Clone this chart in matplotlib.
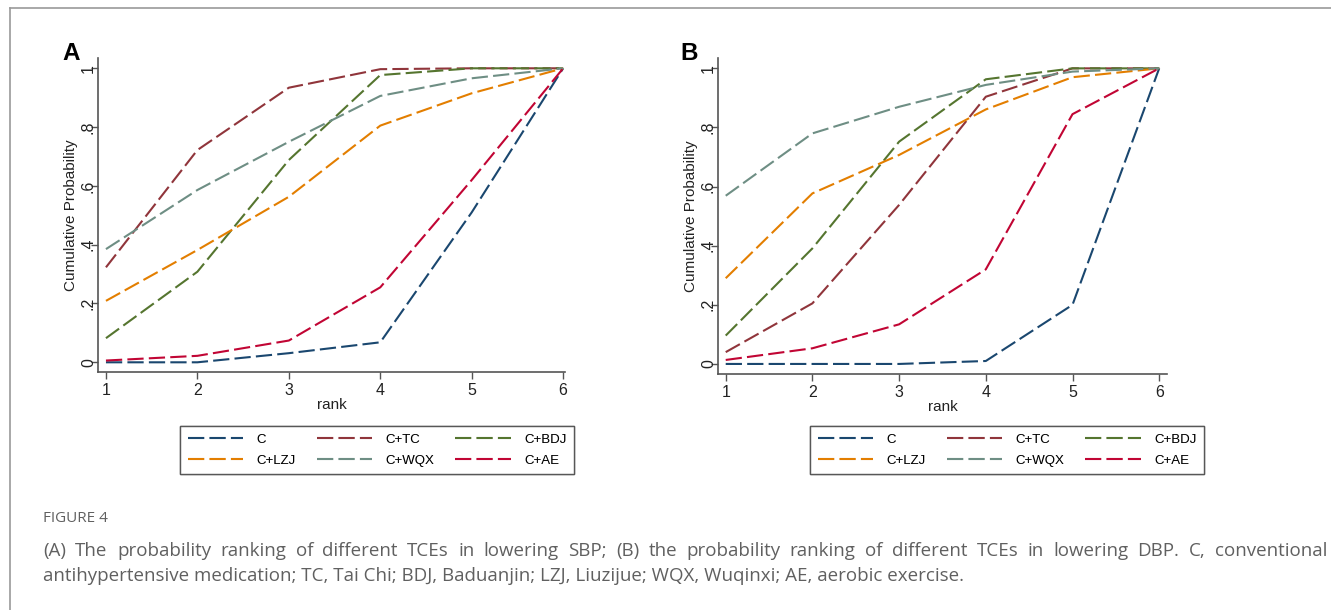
import matplotlib as mpl
import matplotlib.pyplot as plt
from matplotlib.lines import Line2D

mpl.rcParams.update({
    "font.family": ["Liberation Sans", "DejaVu Sans"],
    "font.size": 10,
})

W, H = 1331, 610

ranks = [1, 2, 3, 4, 5, 6]
series_names = ["C", "C+TC", "C+BDJ", "C+LZJ", "C+WQX", "C+AE"]
series_colors = ["#1a476f", "#90353b", "#55752f", "#e37e00", "#6e8e84", "#c10534"]

# panel A: SBP
sbp_c = [0.0, 0.0, 0.031, 0.068, 0.51, 1.0]
sbp_tc = [0.323, 0.722, 0.934, 0.997, 1.0, 1.0]
sbp_bdj = [0.082, 0.308, 0.688, 0.977, 1.0, 1.0]
sbp_lzj = [0.209, 0.382, 0.563, 0.805, 0.915, 1.0]
sbp_wqx = [0.385, 0.586, 0.75, 0.906, 0.966, 1.0]
sbp_ae = [0.006, 0.022, 0.074, 0.255, 0.62, 1.0]

# panel B: DBP
dbp_c = [0.0, 0.0, 0.0, 0.01, 0.2, 1.0]
dbp_tc = [0.04, 0.205, 0.538, 0.904, 1.0, 1.0]
dbp_bdj = [0.096, 0.391, 0.752, 0.963, 1.0, 1.0]
dbp_lzj = [0.29, 0.577, 0.707, 0.861, 0.97, 1.0]
dbp_wqx = [0.569, 0.78, 0.87, 0.944, 0.989, 1.0]
dbp_ae = [0.0135, 0.053, 0.134, 0.32, 0.845, 1.0]

y_ticks = [0, 0.2, 0.4, 0.6, 0.8, 1.0]
y_ticklabels = ["0", ".2", ".4", ".6", ".8", "1"]

caption_head = "FIGURE 4"
caption_line1 = ("(A) The probability ranking of different TCEs in lowering SBP; (B) the "
                 "probability ranking of different TCEs in lowering DBP. C, conventional")
caption_line2 = ("antihypertensive medication; TC, Tai Chi; BDJ, Baduanjin; LZJ, Liuzijue; "
                 "WQX, Wuqinxi; AE, aerobic exercise.")

AXIS_COL = "#555555"
DASHES = (7.8, 2.5)


def px_rect(left, top, right, bottom):
    return [left / W, 1 - bottom / H, (right - left) / W, (bottom - top) / H]


def draw_panel(ax, data, xlim, ylim):
    for vals, name, col in zip(data, series_names, series_colors):
        ax.plot(ranks, vals, color=col, lw=1.5, dashes=DASHES, label=name)
    ax.set_xlim(*xlim)
    ax.set_ylim(*ylim)
    ax.set_xticks(ranks)
    ax.set_yticks(y_ticks)
    ax.set_yticklabels(y_ticklabels, rotation=90, va="center")
    for s in ["top", "right"]:
        ax.spines[s].set_visible(False)
    for s in ["left", "bottom"]:
        ax.spines[s].set_color(AXIS_COL)
        ax.spines[s].set_linewidth(1.2)
    ax.tick_params(length=5, width=1.0, color=AXIS_COL, labelsize=11.5,
                   labelcolor="#222222")
    ax.tick_params(axis="x", pad=3)
    ax.tick_params(axis="y", pad=-3.5)
    ax.set_xlabel("rank", fontsize=11, color="#222222", labelpad=0)
    ax.set_ylabel("Cumulative Probability", fontsize=11, color="#222222",
                  labelpad=2)


fig = plt.figure(figsize=(W / 100, H / 100), dpi=100)

ax_a = fig.add_axes(px_rect(98, 58, 565, 372))
draw_panel(ax_a, [sbp_c, sbp_tc, sbp_bdj, sbp_lzj, sbp_wqx, sbp_ae],
           (0.913, 6.02), (-0.033, 1.035))
ax_b = fig.add_axes(px_rect(718, 58, 1167, 374))
draw_panel(ax_b, [dbp_c, dbp_tc, dbp_bdj, dbp_lzj, dbp_wqx, dbp_ae],
           (0.911, 6.09), (-0.034, 1.035))

fig.text(62 / W, 1 - 60 / H, "A", fontsize=17.5, fontweight="bold", va="baseline")
fig.text(680 / W, 1 - 60 / H, "B", fontsize=17.5, fontweight="bold", va="baseline")

handles = [Line2D([], [], color=c, lw=1.5, dashes=DASHES) for c in series_colors]
for (l, t, r, b) in [(181, 425, 573, 475), (805, 425, 1209, 475)]:
    # legend order follows the chart: C, C+TC, C+BDJ / C+LZJ, C+WQX, C+AE
    order = [0, 3, 1, 4, 2, 5]
    leg = fig.legend([handles[i] for i in order], [series_names[i] for i in order],
                     ncol=3, loc="center",
                     bbox_to_anchor=((l + r) / 2 / W, 1 - (t + b) / 2 / H),
                     fontsize=9.5, handlelength=4.2, columnspacing=1.6,
                     handletextpad=1.0, labelspacing=0.65, borderpad=0.55,
                     frameon=True, fancybox=False, edgecolor="#444444")
    leg.get_frame().set_linewidth(1.0)
    fig.add_artist(leg)

# figure border (top and left only)
fig.add_artist(Line2D([9.5 / W, 9.5 / W], [0, 1 - 7.5 / H], transform=fig.transFigure,
                      color="#9a9a9a", lw=1.2))
fig.add_artist(Line2D([9.5 / W, 1], [1 - 7.5 / H, 1 - 7.5 / H], transform=fig.transFigure,
                      color="#9a9a9a", lw=1.2))

CAP_FONT = ["Open Sans", "DejaVu Sans"]
CAP_COL = "#606060"
fig.text(43 / W, 1 - 522 / H, caption_head, fontsize=11, color=CAP_COL,
         family=CAP_FONT, va="baseline")

# justified first caption line
fig.canvas.draw()
renderer = fig.canvas.get_renderer()
words = caption_line1.split(" ")
texts = [fig.text(0, 1 - 556 / H, w, fontsize=13.5, color=CAP_COL, family=CAP_FONT,
                  va="baseline") for w in words]
widths = [t.get_window_extent(renderer).width for t in texts]
x0, x1 = 43, 1327
gap = (x1 - x0 - sum(widths)) / (len(words) - 1)
x = x0
for t, w in zip(texts, widths):
    t.set_x(x / W)
    x += w + gap
fig.text(43 / W, 1 - 581 / H, caption_line2, fontsize=13.5, color=CAP_COL,
         family=CAP_FONT, va="baseline")

fig.savefig("out.png", dpi=100)
